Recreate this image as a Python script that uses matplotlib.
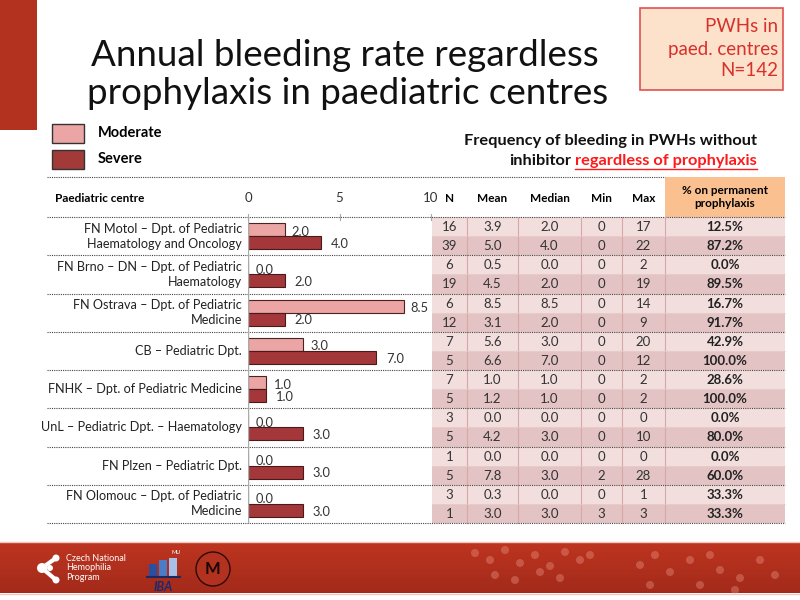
import matplotlib
matplotlib.use("Agg")
import matplotlib.pyplot as plt
from matplotlib.patches import Rectangle, Circle
from matplotlib.colors import LinearSegmentedColormap
import numpy as np

plt.rcParams['font.family'] = ['Lato', 'DejaVu Sans']

# ---------------- data ----------------
centres = [
    "FN Motol – Dpt. of Pediatric\nHaematology and Oncology",
    "FN Brno – DN – Dpt. of Pediatric\nHaematology",
    "FN Ostrava – Dpt. of Pediatric\nMedicine",
    "CB – Pediatric Dpt.",
    "FNHK – Dpt. of Pediatric Medicine",
    "UnL – Pediatric Dpt. – Haematology",
    "FN Plzen – Pediatric Dpt.",
    "FN Olomouc – Dpt. of Pediatric\nMedicine",
]
moderate_median = [2.0, 0.0, 8.5, 3.0, 1.0, 0.0, 0.0, 0.0]
severe_median = [4.0, 2.0, 2.0, 7.0, 1.0, 3.0, 3.0, 3.0]

# table rows: moderate/severe alternating per centre
tab_n = [16, 39, 6, 19, 6, 12, 7, 5, 7, 5, 3, 5, 1, 5, 3, 1]
tab_mean = [3.9, 5.0, 0.5, 4.5, 8.5, 3.1, 5.6, 6.6, 1.0, 1.2, 0.0, 4.2, 0.0, 7.8, 0.3, 3.0]
tab_median = [2.0, 4.0, 0.0, 2.0, 8.5, 2.0, 3.0, 7.0, 1.0, 1.0, 0.0, 3.0, 0.0, 3.0, 0.0, 3.0]
tab_min = [0, 0, 0, 0, 0, 0, 0, 0, 0, 0, 0, 0, 0, 2, 0, 3]
tab_max = [17, 22, 2, 19, 14, 9, 20, 12, 2, 2, 0, 10, 0, 28, 1, 3]
tab_pct = [12.5, 87.2, 0.0, 89.5, 16.7, 91.7, 42.9, 100.0, 28.6, 100.0, 0.0, 80.0, 0.0, 60.0, 33.3, 33.3]

col_headers = ["N", "Mean", "Median", "Min", "Max"]
x_ticks = [0, 5, 10]

# ---------------- figure ----------------
fig = plt.figure(figsize=(8, 6), dpi=100)
bg = fig.add_axes([0, 0, 1, 1])
bg.set_xlim(0, 800)
bg.set_ylim(600, 0)
bg.axis('off')

RED = '#B3321F'
# left red bar
bg.add_patch(Rectangle((0, 0), 37, 130, fc=RED, ec='none'))

# title
bg.text(345, 56, "Annual bleeding rate regardless", ha='center', va='center',
        fontsize=26.5, color='#111111')
bg.text(348, 93, "prophylaxis in paediatric centres", ha='center', va='center',
        fontsize=26.5, color='#111111')

# info box
bg.add_patch(Rectangle((640, 8), 143, 82, fc='#FCE1CB', ec='#E05252', lw=1.2))
for yy, t in zip([27, 49, 71], ["PWHs in", "paed. centres", "N=142"]):
    bg.text(778, yy, t, ha='right', va='center', fontsize=13.5, color='#D8302A')

# legend
bg.add_patch(Rectangle((52, 124), 32, 19, fc='#EBA5A5', ec='#333333', lw=1))
bg.add_patch(Rectangle((52, 150), 32, 19, fc='#A33A3A', ec='#333333', lw=1))
bg.text(98, 133, "Moderate", ha='left', va='center', fontsize=10.5, fontweight='bold')
bg.text(98, 159, "Severe", ha='left', va='center', fontsize=10.5, fontweight='bold')

# subtitle
bg.text(757, 141, "Frequency of bleeding in PWHs without", ha='right', va='center',
        fontsize=11.8, fontweight='bold', color='#111111')
t2 = bg.text(757, 161, "regardless of prophylaxis", ha='right', va='center',
             fontsize=11.8, fontweight='bold', color='#FF1A1A')
fig.canvas.draw()
bb = t2.get_window_extent().transformed(bg.transData.inverted())
x_left = min(bb.x0, bb.x1)
bg.plot([x_left, 757], [169, 169], color='#FF1A1A', lw=1)
bg.text(x_left - 4, 161, "inhibitor", ha='right', va='center',
        fontsize=11.8, fontweight='bold', color='#111111')

# header area
TOP, HDR, BOT = 177, 217, 523
bg.add_patch(Rectangle((665, TOP), 120, HDR - TOP, fc='#FAC090', ec='none'))
bg.plot([47, 665], [TOP, TOP], color='#444444', lw=0.8, ls=(0, (1, 1)))
bg.plot([47, 785], [HDR, HDR], color='#444444', lw=0.8, ls=(0, (1, 1)))
bg.text(55, 198, "Paediatric centre", ha='left', va='center', fontsize=8.5, fontweight='bold')

col_edges = [432, 467, 518, 581, 622, 665, 785]
col_centers = [(col_edges[i] + col_edges[i + 1]) / 2 for i in range(6)]
for c, h in zip(col_centers[:5], col_headers):
    bg.text(c, 198, h, ha='center', va='center', fontsize=8.5, fontweight='bold')
bg.text(col_centers[5], 197, "% on permanent\nprophylaxis", ha='center', va='center',
        fontsize=8.5, fontweight='bold', linespacing=1.3)

# table body
nrows = len(tab_n)
rh = (BOT - HDR) / nrows
for i in range(nrows):
    y0 = HDR + i * rh
    fc = '#F2DEDD' if i % 2 == 0 else '#E3C3C3'
    bg.add_patch(Rectangle((432, y0), 785 - 432, rh, fc=fc, ec='none'))
    yc = y0 + rh / 2
    vals = [str(tab_n[i]), f"{tab_mean[i]:.1f}", f"{tab_median[i]:.1f}",
            str(tab_min[i]), str(tab_max[i])]
    for c, v in zip(col_centers[:5], vals):
        bg.text(c, yc + 0.5, v, ha='center', va='center', fontsize=9.5, color='#333333')
    bg.text(col_centers[5], yc + 0.5, f"{tab_pct[i]:.1f}%", ha='center', va='center',
            fontsize=9.5, fontweight='bold', color='#222222')
for xe in col_edges[1:-1]:
    bg.plot([xe, xe], [HDR, BOT], color='#D8A8A8', lw=0.8)
for i in range(nrows):
    y0 = HDR + i * rh
    if i % 2 == 1:
        bg.plot([47, 785], [y0 + rh, y0 + rh], color='#444444', lw=0.8, ls=(0, (1, 1)))
    else:
        bg.plot([432, 785], [y0 + rh, y0 + rh], color='#E9CFCF', lw=0.5)

# centre labels
ng = len(centres)
gh = (BOT - HDR) / ng
for i, name in enumerate(centres):
    yc = HDR + (i + 0.5) * gh
    bg.text(242, yc, name, ha='right', va='center', fontsize=9.1,
            color='#222222', linespacing=1.3)

# tick labels on top
for t in x_ticks:
    xp = 248 + (431 - 248) * t / 10
    bg.text(xp, 198, str(t), ha='center', va='center', fontsize=9.5, color='#333333')
    bg.plot([xp, xp], [214, HDR + 3], color='#AAAAAA', lw=0.8)

# bar chart axes
ax = fig.add_axes([248 / 800, 1 - BOT / 600, (431 - 248) / 800, (BOT - HDR) / 600])
ax.set_xlim(0, 10)
ax.set_ylim(ng, 0)
ax.axis('off')
ax.axvline(0, color='#AAAAAA', lw=1)
pos = np.arange(ng) + 0.5
bh = 0.34
ax.barh(pos - 0.17, moderate_median, height=bh, color='#EBA5A5', edgecolor='#4A2222', lw=0.8)
ax.barh(pos + 0.17, severe_median, height=bh, color='#A3373A', edgecolor='#4A1A1A', lw=0.8)
for p, m, s in zip(pos, moderate_median, severe_median):
    ax.text(m + 0.4, p - 0.12, f"{m:.1f}", ha='left', va='center', fontsize=9.3, color='#333333')
    ax.text(s + 0.55, p + 0.2, f"{s:.1f}", ha='left', va='center', fontsize=9.3, color='#333333')

# footer band
grad = np.linspace(0, 1, 50).reshape(-1, 1)
cmap = LinearSegmentedColormap.from_list('f', ['#BD3520', '#A32A1A'])
bg.imshow(grad, extent=(0, 800, 593, 543), cmap=cmap, aspect='auto', zorder=0)
bg.plot([0, 800], [542, 542], color='#F0C8C0', lw=1)
bg.plot([0, 800], [594, 594], color='#F0C8C0', lw=1)
bg.set_xlim(0, 800)
bg.set_ylim(600, 0)

# logo: Czech National Hemophilia Program
for (cx, cy, r) in [(42, 568, 5), (56, 558, 3.5), (56, 580, 3.5), (50, 568, 3)]:
    bg.add_patch(Circle((cx, cy), r, fc='white', ec='none', zorder=3))
bg.plot([42, 56], [568, 558], color='white', lw=3, zorder=3)
bg.plot([42, 56], [568, 580], color='white', lw=3, zorder=3)
bg.text(66, 568, "Czech National\nHemophilia\nProgram", ha='left', va='center',
        fontsize=6.5, color='white', linespacing=1.1, zorder=3)
# IBA logo
for k, (h, c) in enumerate([(12, '#2A4FA0'), (16, '#4A7CC8'), (18, '#A8C0E8')]):
    bg.add_patch(Rectangle((149 + k * 10, 576 - h), 8, h, fc=c, ec='none', zorder=3))
bg.plot([147, 180], [577, 577], color='#1A2A60', lw=1.5, zorder=3)
bg.text(163, 587, "IBA", ha='center', va='center', fontsize=9, fontweight='bold',
        fontstyle='italic', color='#1A2A70', zorder=3)
bg.text(176, 552, "MU", ha='center', va='center', fontsize=4, color='white', zorder=3)
# MU seal
bg.add_patch(Circle((213, 569), 17, fc='#B3321F', ec='#2A0A0A', lw=1, zorder=3))
bg.text(213, 569, "M", ha='center', va='center', fontsize=12, fontweight='bold',
        color='#1A0505', zorder=4)

# faint dots decoration
dots_x = [475, 490, 505, 520, 535, 550, 565, 580, 495, 515, 540, 560, 590, 640, 655, 670,
          690, 700, 720, 740, 760, 775, 650, 710, 735]
dots_y = [553, 560, 550, 563, 555, 566, 552, 560, 575, 580, 572, 578, 555, 565, 555, 572,
          560, 585, 570, 578, 560, 575, 585, 555, 590]
for dx, dy in zip(dots_x, dots_y):
    bg.add_patch(Circle((dx, dy), 4, fc='#F0A090', alpha=0.35, ec='none', zorder=2))

fig.savefig("out.png", dpi=100)
